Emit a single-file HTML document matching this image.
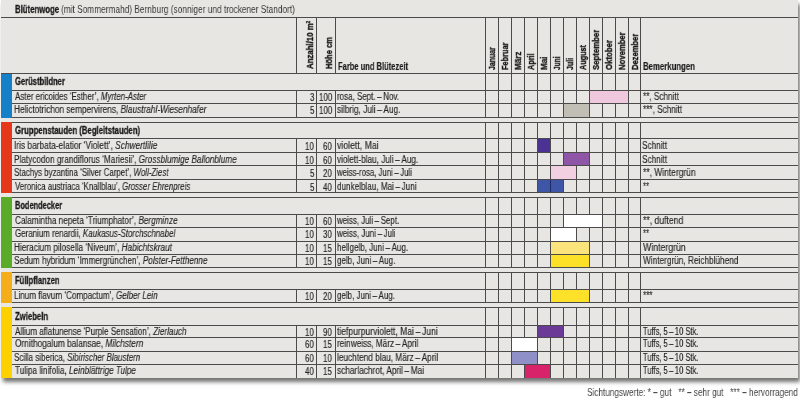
<!DOCTYPE html>
<html><head><meta charset="utf-8"><style>
html,body{margin:0;padding:0;background:#fff;width:800px;height:405px;overflow:hidden}
#box{position:absolute;left:1px;top:0;width:797px;height:378px;background:#e7e6e2;box-shadow:2px 4px 4px rgba(0,0,0,.55)}
svg{position:absolute;left:0;top:0}
.t{position:absolute;will-change:transform;white-space:nowrap;font-family:"Liberation Sans",sans-serif;line-height:normal;transform-origin:0 0}
</style></head><body>
<div id="box"></div>
<svg width="800" height="405" viewBox="0 0 800 405" shape-rendering="crispEdges">
<rect x="1" y="17" width="797" height="1" fill="#4b4b4b"/>
<rect x="1" y="73" width="797" height="1" fill="#4b4b4b"/>
<rect x="296" y="17" width="1" height="56" fill="#4b4b4b"/>
<rect x="316" y="17" width="1" height="56" fill="#4b4b4b"/>
<rect x="335" y="17" width="1" height="56" fill="#4b4b4b"/>
<rect x="485" y="17" width="1" height="56" fill="#4b4b4b"/>
<rect x="498" y="17" width="1" height="56" fill="#4b4b4b"/>
<rect x="511" y="17" width="1" height="56" fill="#4b4b4b"/>
<rect x="524" y="17" width="1" height="56" fill="#4b4b4b"/>
<rect x="537" y="17" width="1" height="56" fill="#4b4b4b"/>
<rect x="550" y="17" width="1" height="56" fill="#4b4b4b"/>
<rect x="563" y="17" width="1" height="56" fill="#4b4b4b"/>
<rect x="576" y="17" width="1" height="56" fill="#4b4b4b"/>
<rect x="589" y="17" width="1" height="56" fill="#4b4b4b"/>
<rect x="602" y="17" width="1" height="56" fill="#4b4b4b"/>
<rect x="615" y="17" width="1" height="56" fill="#4b4b4b"/>
<rect x="628" y="17" width="1" height="56" fill="#4b4b4b"/>
<rect x="640" y="17" width="1" height="56" fill="#4b4b4b"/>
<rect x="1" y="74" width="11" height="44" fill="#1580c8"/>
<rect x="12" y="73" width="786" height="1" fill="#4b4b4b"/>
<rect x="12" y="90" width="786" height="1" fill="#4b4b4b"/>
<rect x="12" y="103" width="786" height="1" fill="#4b4b4b"/>
<rect x="12" y="117" width="786" height="1" fill="#4b4b4b"/>
<rect x="485" y="73" width="1" height="45" fill="#4b4b4b"/>
<rect x="498" y="73" width="1" height="45" fill="#4b4b4b"/>
<rect x="511" y="73" width="1" height="45" fill="#4b4b4b"/>
<rect x="524" y="73" width="1" height="45" fill="#4b4b4b"/>
<rect x="537" y="73" width="1" height="45" fill="#4b4b4b"/>
<rect x="550" y="73" width="1" height="45" fill="#4b4b4b"/>
<rect x="563" y="73" width="1" height="45" fill="#4b4b4b"/>
<rect x="576" y="73" width="1" height="45" fill="#4b4b4b"/>
<rect x="589" y="73" width="1" height="45" fill="#4b4b4b"/>
<rect x="602" y="73" width="1" height="45" fill="#4b4b4b"/>
<rect x="615" y="73" width="1" height="45" fill="#4b4b4b"/>
<rect x="628" y="73" width="1" height="45" fill="#4b4b4b"/>
<rect x="640" y="73" width="1" height="45" fill="#4b4b4b"/>
<rect x="296" y="90" width="1" height="28" fill="#4b4b4b"/>
<rect x="316" y="90" width="1" height="28" fill="#4b4b4b"/>
<rect x="335" y="90" width="1" height="28" fill="#4b4b4b"/>
<rect x="590" y="91" width="38" height="12" fill="#efc8de"/>
<rect x="564" y="104" width="25" height="13" fill="#c1beb6"/>
<rect x="1" y="122" width="11" height="71" fill="#e6371a"/>
<rect x="12" y="122" width="786" height="1" fill="#4b4b4b"/>
<rect x="12" y="138" width="786" height="1" fill="#4b4b4b"/>
<rect x="12" y="152" width="786" height="1" fill="#4b4b4b"/>
<rect x="12" y="165" width="786" height="1" fill="#4b4b4b"/>
<rect x="12" y="179" width="786" height="1" fill="#4b4b4b"/>
<rect x="12" y="192" width="786" height="1" fill="#4b4b4b"/>
<rect x="485" y="122" width="1" height="71" fill="#4b4b4b"/>
<rect x="498" y="122" width="1" height="71" fill="#4b4b4b"/>
<rect x="511" y="122" width="1" height="71" fill="#4b4b4b"/>
<rect x="524" y="122" width="1" height="71" fill="#4b4b4b"/>
<rect x="537" y="122" width="1" height="71" fill="#4b4b4b"/>
<rect x="550" y="122" width="1" height="71" fill="#4b4b4b"/>
<rect x="563" y="122" width="1" height="71" fill="#4b4b4b"/>
<rect x="576" y="122" width="1" height="71" fill="#4b4b4b"/>
<rect x="589" y="122" width="1" height="71" fill="#4b4b4b"/>
<rect x="602" y="122" width="1" height="71" fill="#4b4b4b"/>
<rect x="615" y="122" width="1" height="71" fill="#4b4b4b"/>
<rect x="628" y="122" width="1" height="71" fill="#4b4b4b"/>
<rect x="640" y="122" width="1" height="71" fill="#4b4b4b"/>
<rect x="296" y="138" width="1" height="55" fill="#4b4b4b"/>
<rect x="316" y="138" width="1" height="55" fill="#4b4b4b"/>
<rect x="335" y="138" width="1" height="55" fill="#4b4b4b"/>
<rect x="538" y="139" width="12" height="13" fill="#4a3394"/>
<rect x="564" y="153" width="25" height="12" fill="#8f56a8"/>
<rect x="551" y="166" width="25" height="13" fill="#f2d0e2"/>
<rect x="538" y="180" width="25" height="12" fill="#3f56a6"/>
<rect x="550" y="180" width="1" height="12" fill="#1e2a66"/>
<rect x="1" y="197" width="11" height="71" fill="#5aab28"/>
<rect x="12" y="197" width="786" height="1" fill="#4b4b4b"/>
<rect x="12" y="214" width="786" height="1" fill="#4b4b4b"/>
<rect x="12" y="227" width="786" height="1" fill="#4b4b4b"/>
<rect x="12" y="241" width="786" height="1" fill="#4b4b4b"/>
<rect x="12" y="254" width="786" height="1" fill="#4b4b4b"/>
<rect x="12" y="267" width="786" height="1" fill="#4b4b4b"/>
<rect x="485" y="197" width="1" height="71" fill="#4b4b4b"/>
<rect x="498" y="197" width="1" height="71" fill="#4b4b4b"/>
<rect x="511" y="197" width="1" height="71" fill="#4b4b4b"/>
<rect x="524" y="197" width="1" height="71" fill="#4b4b4b"/>
<rect x="537" y="197" width="1" height="71" fill="#4b4b4b"/>
<rect x="550" y="197" width="1" height="71" fill="#4b4b4b"/>
<rect x="563" y="197" width="1" height="71" fill="#4b4b4b"/>
<rect x="576" y="197" width="1" height="71" fill="#4b4b4b"/>
<rect x="589" y="197" width="1" height="71" fill="#4b4b4b"/>
<rect x="602" y="197" width="1" height="71" fill="#4b4b4b"/>
<rect x="615" y="197" width="1" height="71" fill="#4b4b4b"/>
<rect x="628" y="197" width="1" height="71" fill="#4b4b4b"/>
<rect x="640" y="197" width="1" height="71" fill="#4b4b4b"/>
<rect x="296" y="214" width="1" height="54" fill="#4b4b4b"/>
<rect x="316" y="214" width="1" height="54" fill="#4b4b4b"/>
<rect x="335" y="214" width="1" height="54" fill="#4b4b4b"/>
<rect x="564" y="215" width="38" height="12" fill="#ffffff"/>
<rect x="551" y="228" width="25" height="13" fill="#ffffff"/>
<rect x="551" y="242" width="38" height="12" fill="#fbe47c"/>
<rect x="551" y="255" width="38" height="12" fill="#fde128"/>
<rect x="1" y="272" width="11" height="31" fill="#f5ae1a"/>
<rect x="12" y="272" width="786" height="1" fill="#4b4b4b"/>
<rect x="12" y="289" width="786" height="1" fill="#4b4b4b"/>
<rect x="12" y="302" width="786" height="1" fill="#4b4b4b"/>
<rect x="485" y="272" width="1" height="31" fill="#4b4b4b"/>
<rect x="498" y="272" width="1" height="31" fill="#4b4b4b"/>
<rect x="511" y="272" width="1" height="31" fill="#4b4b4b"/>
<rect x="524" y="272" width="1" height="31" fill="#4b4b4b"/>
<rect x="537" y="272" width="1" height="31" fill="#4b4b4b"/>
<rect x="550" y="272" width="1" height="31" fill="#4b4b4b"/>
<rect x="563" y="272" width="1" height="31" fill="#4b4b4b"/>
<rect x="576" y="272" width="1" height="31" fill="#4b4b4b"/>
<rect x="589" y="272" width="1" height="31" fill="#4b4b4b"/>
<rect x="602" y="272" width="1" height="31" fill="#4b4b4b"/>
<rect x="615" y="272" width="1" height="31" fill="#4b4b4b"/>
<rect x="628" y="272" width="1" height="31" fill="#4b4b4b"/>
<rect x="640" y="272" width="1" height="31" fill="#4b4b4b"/>
<rect x="296" y="289" width="1" height="14" fill="#4b4b4b"/>
<rect x="316" y="289" width="1" height="14" fill="#4b4b4b"/>
<rect x="335" y="289" width="1" height="14" fill="#4b4b4b"/>
<rect x="551" y="290" width="38" height="12" fill="#fde128"/>
<rect x="1" y="307" width="11" height="71" fill="#fdd000"/>
<rect x="12" y="307" width="786" height="1" fill="#4b4b4b"/>
<rect x="12" y="325" width="786" height="1" fill="#4b4b4b"/>
<rect x="12" y="337" width="786" height="1" fill="#4b4b4b"/>
<rect x="12" y="351" width="786" height="1" fill="#4b4b4b"/>
<rect x="12" y="364" width="786" height="1" fill="#4b4b4b"/>
<rect x="485" y="307" width="1" height="71" fill="#4b4b4b"/>
<rect x="498" y="307" width="1" height="71" fill="#4b4b4b"/>
<rect x="511" y="307" width="1" height="71" fill="#4b4b4b"/>
<rect x="524" y="307" width="1" height="71" fill="#4b4b4b"/>
<rect x="537" y="307" width="1" height="71" fill="#4b4b4b"/>
<rect x="550" y="307" width="1" height="71" fill="#4b4b4b"/>
<rect x="563" y="307" width="1" height="71" fill="#4b4b4b"/>
<rect x="576" y="307" width="1" height="71" fill="#4b4b4b"/>
<rect x="589" y="307" width="1" height="71" fill="#4b4b4b"/>
<rect x="602" y="307" width="1" height="71" fill="#4b4b4b"/>
<rect x="615" y="307" width="1" height="71" fill="#4b4b4b"/>
<rect x="628" y="307" width="1" height="71" fill="#4b4b4b"/>
<rect x="640" y="307" width="1" height="71" fill="#4b4b4b"/>
<rect x="296" y="325" width="1" height="53" fill="#4b4b4b"/>
<rect x="316" y="325" width="1" height="53" fill="#4b4b4b"/>
<rect x="335" y="325" width="1" height="53" fill="#4b4b4b"/>
<rect x="538" y="326" width="25" height="11" fill="#6b3a96"/>
<rect x="512" y="338" width="25" height="13" fill="#ffffff"/>
<rect x="512" y="352" width="25" height="12" fill="#9090c8"/>
<rect x="525" y="365" width="25" height="13" fill="#d8226a"/>
</svg>
<div class="t" style="left:15.10px;top:3.52px;font-size:10.3px;font-weight:bold;color:#1a1a1a;-webkit-text-stroke:0.3px #1a1a1a;transform:scaleX(0.7569)">Blütenwoge</div>
<div class="t" style="left:61.19px;top:3.52px;font-size:10.3px;color:#383838;transform:scaleX(0.8062)">(mit Sommermahd) Bernburg (sonniger und trockener Standort)</div>
<div class="t" style="left:337.75px;top:61.02px;font-size:10.2px;font-weight:bold;color:#1a1a1a;-webkit-text-stroke:0.15px #1a1a1a;transform:scaleX(0.7405)">Farbe und Blütezeit</div>
<div class="t" style="left:643.00px;top:61.02px;font-size:10.2px;font-weight:bold;color:#1a1a1a;-webkit-text-stroke:0.15px #1a1a1a;transform:scaleX(0.7647)">Bemerkungen</div>
<div class="t" style="left:304.37px;top:69.20px;font-size:9.6px;font-weight:bold;color:#1a1a1a;-webkit-text-stroke:0.35px #1a1a1a;transform:rotate(-90deg) scaleX(0.8153)">Anzahl/10 m<sup style="font-size:60%;vertical-align:0.55em;line-height:0">2</sup></div>
<div class="t" style="left:322.77px;top:69.20px;font-size:9.6px;font-weight:bold;color:#1a1a1a;-webkit-text-stroke:0.35px #1a1a1a;transform:rotate(-90deg) scaleX(0.7875)">Höhe cm</div>
<div class="t" style="left:486.49px;top:70.00px;font-size:9.9px;font-weight:bold;color:#1a1a1a;-webkit-text-stroke:0.35px #1a1a1a;transform:rotate(-90deg) scaleX(0.7030)">Januar</div>
<div class="t" style="left:499.49px;top:70.00px;font-size:9.9px;font-weight:bold;color:#1a1a1a;-webkit-text-stroke:0.35px #1a1a1a;transform:rotate(-90deg) scaleX(0.7459)">Februar</div>
<div class="t" style="left:512.49px;top:70.00px;font-size:9.9px;font-weight:bold;color:#1a1a1a;-webkit-text-stroke:0.35px #1a1a1a;transform:rotate(-90deg) scaleX(0.8227)">März</div>
<div class="t" style="left:525.49px;top:70.00px;font-size:9.9px;font-weight:bold;color:#1a1a1a;-webkit-text-stroke:0.35px #1a1a1a;transform:rotate(-90deg) scaleX(0.7409)">April</div>
<div class="t" style="left:538.49px;top:70.00px;font-size:9.9px;font-weight:bold;color:#1a1a1a;-webkit-text-stroke:0.35px #1a1a1a;transform:rotate(-90deg) scaleX(0.8188)">Mai</div>
<div class="t" style="left:551.49px;top:70.00px;font-size:9.9px;font-weight:bold;color:#1a1a1a;-webkit-text-stroke:0.35px #1a1a1a;transform:rotate(-90deg) scaleX(0.6700)">Juni</div>
<div class="t" style="left:564.49px;top:70.00px;font-size:9.9px;font-weight:bold;color:#1a1a1a;-webkit-text-stroke:0.35px #1a1a1a;transform:rotate(-90deg) scaleX(0.7118)">Juli</div>
<div class="t" style="left:577.49px;top:70.00px;font-size:9.9px;font-weight:bold;color:#1a1a1a;-webkit-text-stroke:0.35px #1a1a1a;transform:rotate(-90deg) scaleX(0.7324)">August</div>
<div class="t" style="left:590.49px;top:70.00px;font-size:9.9px;font-weight:bold;color:#1a1a1a;-webkit-text-stroke:0.35px #1a1a1a;transform:rotate(-90deg) scaleX(0.7882)">September</div>
<div class="t" style="left:603.49px;top:70.00px;font-size:9.9px;font-weight:bold;color:#1a1a1a;-webkit-text-stroke:0.35px #1a1a1a;transform:rotate(-90deg) scaleX(0.7921)">Oktober</div>
<div class="t" style="left:616.49px;top:70.00px;font-size:9.9px;font-weight:bold;color:#1a1a1a;-webkit-text-stroke:0.35px #1a1a1a;transform:rotate(-90deg) scaleX(0.7796)">November</div>
<div class="t" style="left:629.49px;top:70.00px;font-size:9.9px;font-weight:bold;color:#1a1a1a;-webkit-text-stroke:0.35px #1a1a1a;transform:rotate(-90deg) scaleX(0.7702)">Dezember</div>
<div class="t" style="left:587.19px;top:386.62px;font-size:10.2px;color:#444;transform:scaleX(0.8058)">Sichtungswerte: * <b>–</b> gut &nbsp;&nbsp;** <b>–</b> sehr gut &nbsp;&nbsp;*** <b>–</b> hervorragend</div>
<div class="t" style="left:15.00px;top:75.90px;font-size:10.0px;font-weight:bold;color:#1a1a1a;-webkit-text-stroke:0.3px #1a1a1a;transform:scaleX(0.7606)">Gerüstbildner</div>
<div class="t" style="left:14.60px;top:90.70px;font-size:10.0px;color:#262626;-webkit-text-stroke:0.15px #262626;transform:scaleX(0.7934)">Aster ericoides ‘Esther’, <i>Myrten-Aster</i></div>
<div class="t" style="left:309.70px;top:91.60px;font-size:10.0px;color:#262626;-webkit-text-stroke:0.15px #262626;transform:scaleX(0.8000)">3</div>
<div class="t" style="left:319.40px;top:91.60px;font-size:10.0px;color:#262626;-webkit-text-stroke:0.15px #262626;transform:scaleX(0.8000)">100</div>
<div class="t" style="left:337.10px;top:90.70px;font-size:10.0px;color:#262626;-webkit-text-stroke:0.15px #262626;transform:scaleX(0.7974)">rosa, Sept. – Nov.</div>
<div class="t" style="left:643.10px;top:90.70px;font-size:10.0px;color:#262626;-webkit-text-stroke:0.15px #262626;transform:scaleX(0.8182)">**, Schnitt</div>
<div class="t" style="left:13.77px;top:103.70px;font-size:10.0px;color:#262626;-webkit-text-stroke:0.15px #262626;transform:scaleX(0.8263)">Helictotrichon sempervirens, <i>Blaustrahl-Wiesenhafer</i></div>
<div class="t" style="left:309.70px;top:104.60px;font-size:10.0px;color:#262626;-webkit-text-stroke:0.15px #262626;transform:scaleX(0.8000)">5</div>
<div class="t" style="left:319.40px;top:104.60px;font-size:10.0px;color:#262626;-webkit-text-stroke:0.15px #262626;transform:scaleX(0.8000)">100</div>
<div class="t" style="left:337.10px;top:103.70px;font-size:10.0px;color:#262626;-webkit-text-stroke:0.15px #262626;transform:scaleX(0.8250)">silbrig, Juli – Aug.</div>
<div class="t" style="left:643.10px;top:103.70px;font-size:10.0px;color:#262626;-webkit-text-stroke:0.15px #262626;transform:scaleX(0.8167)">***, Schnitt</div>
<div class="t" style="left:15.00px;top:124.90px;font-size:10.0px;font-weight:bold;color:#1a1a1a;-webkit-text-stroke:0.3px #1a1a1a;transform:scaleX(0.7764)">Gruppenstauden (Begleitstauden)</div>
<div class="t" style="left:13.76px;top:139.70px;font-size:10.0px;color:#262626;-webkit-text-stroke:0.15px #262626;transform:scaleX(0.8353)">Iris barbata-elatior ‘Violett’, <i>Schwertlilie</i></div>
<div class="t" style="left:304.90px;top:140.60px;font-size:10.0px;color:#262626;-webkit-text-stroke:0.15px #262626;transform:scaleX(0.8000)">10</div>
<div class="t" style="left:323.40px;top:140.60px;font-size:10.0px;color:#262626;-webkit-text-stroke:0.15px #262626;transform:scaleX(0.8000)">60</div>
<div class="t" style="left:337.10px;top:139.70px;font-size:10.0px;color:#262626;-webkit-text-stroke:0.15px #262626;transform:scaleX(0.8723)">violett, Mai</div>
<div class="t" style="left:642.28px;top:139.70px;font-size:10.0px;color:#262626;-webkit-text-stroke:0.15px #262626;transform:scaleX(0.8200)">Schnitt</div>
<div class="t" style="left:13.78px;top:153.70px;font-size:10.0px;color:#262626;-webkit-text-stroke:0.15px #262626;transform:scaleX(0.8211)">Platycodon grandiflorus ‘Mariesii’, <i>Grossblumige Ballonblume</i></div>
<div class="t" style="left:304.90px;top:154.60px;font-size:10.0px;color:#262626;-webkit-text-stroke:0.15px #262626;transform:scaleX(0.8000)">10</div>
<div class="t" style="left:323.40px;top:154.60px;font-size:10.0px;color:#262626;-webkit-text-stroke:0.15px #262626;transform:scaleX(0.8000)">60</div>
<div class="t" style="left:337.10px;top:153.70px;font-size:10.0px;color:#262626;-webkit-text-stroke:0.15px #262626;transform:scaleX(0.8194)">violett-blau, Juli – Aug.</div>
<div class="t" style="left:642.28px;top:153.70px;font-size:10.0px;color:#262626;-webkit-text-stroke:0.15px #262626;transform:scaleX(0.8200)">Schnitt</div>
<div class="t" style="left:13.81px;top:166.70px;font-size:10.0px;color:#262626;-webkit-text-stroke:0.15px #262626;transform:scaleX(0.7872)">Stachys byzantina ‘Silver Carpet’, <i>Woll-Ziest</i></div>
<div class="t" style="left:309.70px;top:167.60px;font-size:10.0px;color:#262626;-webkit-text-stroke:0.15px #262626;transform:scaleX(0.8000)">5</div>
<div class="t" style="left:323.40px;top:167.60px;font-size:10.0px;color:#262626;-webkit-text-stroke:0.15px #262626;transform:scaleX(0.8000)">20</div>
<div class="t" style="left:337.10px;top:166.70px;font-size:10.0px;color:#262626;-webkit-text-stroke:0.15px #262626;transform:scaleX(0.7781)">weiss-rosa, Juni – Juli</div>
<div class="t" style="left:643.10px;top:166.70px;font-size:10.0px;color:#262626;-webkit-text-stroke:0.15px #262626;transform:scaleX(0.8452)">**, Wintergrün</div>
<div class="t" style="left:14.60px;top:180.70px;font-size:10.0px;color:#262626;-webkit-text-stroke:0.15px #262626;transform:scaleX(0.7861)">Veronica austriaca ‘Knallblau’, <i>Grosser Ehrenpreis</i></div>
<div class="t" style="left:309.70px;top:181.60px;font-size:10.0px;color:#262626;-webkit-text-stroke:0.15px #262626;transform:scaleX(0.8000)">5</div>
<div class="t" style="left:323.40px;top:181.60px;font-size:10.0px;color:#262626;-webkit-text-stroke:0.15px #262626;transform:scaleX(0.8000)">40</div>
<div class="t" style="left:337.10px;top:180.70px;font-size:10.0px;color:#262626;-webkit-text-stroke:0.15px #262626;transform:scaleX(0.8122)">dunkelblau, Mai – Juni</div>
<div class="t" style="left:643.10px;top:180.70px;font-size:10.0px;color:#262626;-webkit-text-stroke:0.15px #262626;transform:scaleX(0.7625)">**</div>
<div class="t" style="left:15.00px;top:199.90px;font-size:10.0px;font-weight:bold;color:#1a1a1a;-webkit-text-stroke:0.3px #1a1a1a;transform:scaleX(0.7422)">Bodendecker</div>
<div class="t" style="left:14.60px;top:214.70px;font-size:10.0px;color:#262626;-webkit-text-stroke:0.15px #262626;transform:scaleX(0.8192)">Calamintha nepeta ‘Triumphator’, <i>Bergminze</i></div>
<div class="t" style="left:304.90px;top:215.60px;font-size:10.0px;color:#262626;-webkit-text-stroke:0.15px #262626;transform:scaleX(0.8000)">10</div>
<div class="t" style="left:323.40px;top:215.60px;font-size:10.0px;color:#262626;-webkit-text-stroke:0.15px #262626;transform:scaleX(0.8000)">60</div>
<div class="t" style="left:337.10px;top:214.70px;font-size:10.0px;color:#262626;-webkit-text-stroke:0.15px #262626;transform:scaleX(0.7923)">weiss, Juli – Sept.</div>
<div class="t" style="left:643.10px;top:214.70px;font-size:10.0px;color:#262626;-webkit-text-stroke:0.15px #262626;transform:scaleX(0.8609)">**, duftend</div>
<div class="t" style="left:14.60px;top:227.70px;font-size:10.0px;color:#262626;-webkit-text-stroke:0.15px #262626;transform:scaleX(0.7941)">Geranium renardii, <i>Kaukasus-Storchschnabel</i></div>
<div class="t" style="left:304.90px;top:228.60px;font-size:10.0px;color:#262626;-webkit-text-stroke:0.15px #262626;transform:scaleX(0.8000)">10</div>
<div class="t" style="left:323.40px;top:228.60px;font-size:10.0px;color:#262626;-webkit-text-stroke:0.15px #262626;transform:scaleX(0.8000)">30</div>
<div class="t" style="left:337.10px;top:227.70px;font-size:10.0px;color:#262626;-webkit-text-stroke:0.15px #262626;transform:scaleX(0.7959)">weiss, Juni – Juli</div>
<div class="t" style="left:643.10px;top:227.70px;font-size:10.0px;color:#262626;-webkit-text-stroke:0.15px #262626;transform:scaleX(0.7625)">**</div>
<div class="t" style="left:13.78px;top:241.70px;font-size:10.0px;color:#262626;-webkit-text-stroke:0.15px #262626;transform:scaleX(0.8236)">Hieracium pilosella ‘Niveum’, <i>Habichtskraut</i></div>
<div class="t" style="left:304.90px;top:242.60px;font-size:10.0px;color:#262626;-webkit-text-stroke:0.15px #262626;transform:scaleX(0.8000)">10</div>
<div class="t" style="left:323.40px;top:242.60px;font-size:10.0px;color:#262626;-webkit-text-stroke:0.15px #262626;transform:scaleX(0.8000)">15</div>
<div class="t" style="left:337.10px;top:241.70px;font-size:10.0px;color:#262626;-webkit-text-stroke:0.15px #262626;transform:scaleX(0.8034)">hellgelb, Juni – Aug.</div>
<div class="t" style="left:643.10px;top:241.70px;font-size:10.0px;color:#262626;-webkit-text-stroke:0.15px #262626;transform:scaleX(0.8729)">Wintergrün</div>
<div class="t" style="left:13.79px;top:254.70px;font-size:10.0px;color:#262626;-webkit-text-stroke:0.15px #262626;transform:scaleX(0.8135)">Sedum hybridum ‘Immergrünchen’, <i>Polster-Fetthenne</i></div>
<div class="t" style="left:304.90px;top:255.60px;font-size:10.0px;color:#262626;-webkit-text-stroke:0.15px #262626;transform:scaleX(0.8000)">10</div>
<div class="t" style="left:323.40px;top:255.60px;font-size:10.0px;color:#262626;-webkit-text-stroke:0.15px #262626;transform:scaleX(0.8000)">15</div>
<div class="t" style="left:337.10px;top:254.70px;font-size:10.0px;color:#262626;-webkit-text-stroke:0.15px #262626;transform:scaleX(0.8000)">gelb, Juni – Aug.</div>
<div class="t" style="left:643.10px;top:254.70px;font-size:10.0px;color:#262626;-webkit-text-stroke:0.15px #262626;transform:scaleX(0.8252)">Wintergrün, Reichblühend</div>
<div class="t" style="left:15.00px;top:274.90px;font-size:10.0px;font-weight:bold;color:#1a1a1a;-webkit-text-stroke:0.3px #1a1a1a;transform:scaleX(0.7621)">Füllpflanzen</div>
<div class="t" style="left:13.79px;top:289.70px;font-size:10.0px;color:#262626;-webkit-text-stroke:0.15px #262626;transform:scaleX(0.8079)">Linum flavum ‘Compactum’, <i>Gelber Lein</i></div>
<div class="t" style="left:304.90px;top:290.60px;font-size:10.0px;color:#262626;-webkit-text-stroke:0.15px #262626;transform:scaleX(0.8000)">10</div>
<div class="t" style="left:323.40px;top:290.60px;font-size:10.0px;color:#262626;-webkit-text-stroke:0.15px #262626;transform:scaleX(0.8000)">20</div>
<div class="t" style="left:337.10px;top:289.70px;font-size:10.0px;color:#262626;-webkit-text-stroke:0.15px #262626;transform:scaleX(0.7944)">gelb, Juni – Aug.</div>
<div class="t" style="left:643.10px;top:289.70px;font-size:10.0px;color:#262626;-webkit-text-stroke:0.15px #262626;transform:scaleX(0.8167)">***</div>
<div class="t" style="left:15.00px;top:310.90px;font-size:10.0px;font-weight:bold;color:#1a1a1a;-webkit-text-stroke:0.3px #1a1a1a;transform:scaleX(0.7721)">Zwiebeln</div>
<div class="t" style="left:14.60px;top:325.70px;font-size:10.0px;color:#262626;-webkit-text-stroke:0.15px #262626;transform:scaleX(0.8094)">Allium aflatunense ‘Purple Sensation’, <i>Zierlauch</i></div>
<div class="t" style="left:304.90px;top:326.60px;font-size:10.0px;color:#262626;-webkit-text-stroke:0.15px #262626;transform:scaleX(0.8000)">10</div>
<div class="t" style="left:323.40px;top:326.60px;font-size:10.0px;color:#262626;-webkit-text-stroke:0.15px #262626;transform:scaleX(0.8000)">90</div>
<div class="t" style="left:337.10px;top:325.70px;font-size:10.0px;color:#262626;-webkit-text-stroke:0.15px #262626;transform:scaleX(0.8542)">tiefpurpurviolett, Mai – Juni</div>
<div class="t" style="left:643.10px;top:325.70px;font-size:10.0px;color:#262626;-webkit-text-stroke:0.15px #262626;transform:scaleX(0.7521)">Tuffs, 5 – 10 Stk.</div>
<div class="t" style="left:14.60px;top:337.70px;font-size:10.0px;color:#262626;-webkit-text-stroke:0.15px #262626;transform:scaleX(0.8299)">Ornithogalum balansae, <i>Milchstern</i></div>
<div class="t" style="left:304.90px;top:338.60px;font-size:10.0px;color:#262626;-webkit-text-stroke:0.15px #262626;transform:scaleX(0.8000)">60</div>
<div class="t" style="left:323.40px;top:338.60px;font-size:10.0px;color:#262626;-webkit-text-stroke:0.15px #262626;transform:scaleX(0.8000)">15</div>
<div class="t" style="left:337.10px;top:337.70px;font-size:10.0px;color:#262626;-webkit-text-stroke:0.15px #262626;transform:scaleX(0.8212)">reinweiss, März – April</div>
<div class="t" style="left:643.10px;top:337.70px;font-size:10.0px;color:#262626;-webkit-text-stroke:0.15px #262626;transform:scaleX(0.7521)">Tuffs, 5 – 10 Stk.</div>
<div class="t" style="left:13.80px;top:351.70px;font-size:10.0px;color:#262626;-webkit-text-stroke:0.15px #262626;transform:scaleX(0.7968)">Scilla siberica, <i>Sibirischer Blaustern</i></div>
<div class="t" style="left:304.90px;top:352.60px;font-size:10.0px;color:#262626;-webkit-text-stroke:0.15px #262626;transform:scaleX(0.8000)">60</div>
<div class="t" style="left:323.40px;top:352.60px;font-size:10.0px;color:#262626;-webkit-text-stroke:0.15px #262626;transform:scaleX(0.8000)">10</div>
<div class="t" style="left:337.10px;top:351.70px;font-size:10.0px;color:#262626;-webkit-text-stroke:0.15px #262626;transform:scaleX(0.8262)">leuchtend blau, März – April</div>
<div class="t" style="left:643.10px;top:351.70px;font-size:10.0px;color:#262626;-webkit-text-stroke:0.15px #262626;transform:scaleX(0.7521)">Tuffs, 5 – 10 Stk.</div>
<div class="t" style="left:14.60px;top:364.70px;font-size:10.0px;color:#262626;-webkit-text-stroke:0.15px #262626;transform:scaleX(0.8204)">Tulipa linifolia, <i>Leinblättrige Tulpe</i></div>
<div class="t" style="left:304.90px;top:365.60px;font-size:10.0px;color:#262626;-webkit-text-stroke:0.15px #262626;transform:scaleX(0.8000)">40</div>
<div class="t" style="left:323.40px;top:365.60px;font-size:10.0px;color:#262626;-webkit-text-stroke:0.15px #262626;transform:scaleX(0.8000)">15</div>
<div class="t" style="left:337.10px;top:364.70px;font-size:10.0px;color:#262626;-webkit-text-stroke:0.15px #262626;transform:scaleX(0.8286)">scharlachrot, April – Mai</div>
<div class="t" style="left:643.10px;top:364.70px;font-size:10.0px;color:#262626;-webkit-text-stroke:0.15px #262626;transform:scaleX(0.7521)">Tuffs, 5 – 10 Stk.</div>
</body></html>
